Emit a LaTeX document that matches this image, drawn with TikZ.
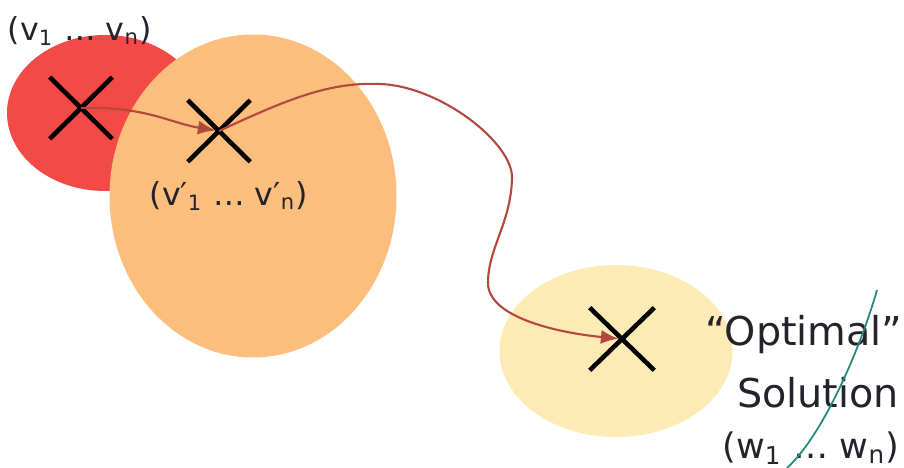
\documentclass[tikz,border=0pt]{standalone}
\usepackage{fontspec}
\setmainfont{DejaVu Sans}
\definecolor{startred}{RGB}{243, 74, 72}
\definecolor{localorange}{RGB}{251, 190, 124}
\definecolor{optyellow}{RGB}{253, 234, 180}
\definecolor{pathred}{RGB}{178, 72, 62}
\definecolor{boundteal}{RGB}{40, 135, 125}
\definecolor{labgray}{RGB}{35, 35, 45}
\usepackage{tikz}
\usetikzlibrary{positioning,shapes.geometric,shapes.misc,arrows.meta}

\begin{document}
\begin{tikzpicture}[
	region/.style={ellipse, inner sep=0pt},
	xmark/.style={cross out, draw=black, line width=1.3pt, inner sep=0pt,
		minimum width=0.58cm, minimum height=0.57cm},
	lab/.style={text=labgray, font=\fontsize{9}{11}\selectfont, inner sep=0pt},
	big/.style={text=labgray, font=\fontsize{11.3}{13}\selectfont, inner sep=0pt},
	walk/.style={-{Latex[length=5pt,width=4pt]}, line width=0.6pt, pathred}
	]
	\useasboundingbox (0,0) rectangle (9.04,4.68);
	
	% search regions
	\node[region, fill=startred, minimum width=1.96cm, minimum height=1.56cm] (start) at (1.05,3.55) {};
	\node[region, fill=localorange, minimum width=2.87cm, minimum height=3.23cm] (local) at (2.53,2.72) {};
	\node[region, fill=optyellow, minimum width=2.33cm, minimum height=1.72cm] (best) at (6.16,1.17) {};
	
	% points
	\node[xmark] (x1) at (0.81,3.60) {};
	\node[xmark] (x2) at (2.19,3.37) {};
	\node[xmark, minimum width=0.60cm, minimum height=0.58cm] (x3) at (6.22,1.29) {};
	
	\node[lab] (vlab)  at (0.80,4.37) {(v\textsubscript{1} \ldots\ v\textsubscript{n})};
	\node[lab] (vplab) at (2.29,2.72) {(v′\textsubscript{1} \ldots\ v′\textsubscript{n})};
	\node[big] (opt)   at (8.04,1.33) {``Optimal''};
	\node[big] (sol)   [below=0.22cm of opt.south, xshift=0.14cm, anchor=north] {Solution};
	\node[lab, font=\fontsize{10}{12}\selectfont] (wlab) at (8.11,0.20) {(w\textsubscript{1} \ldots\ w\textsubscript{n})};
	
	% moves
	\draw[walk, shorten >=1pt] (x1.center) .. controls (1.45,3.62) and (1.70,3.45) .. (x2.center);
	\draw[walk, shorten >=1pt] (x2.center) .. controls (2.9,3.70) and (3.3,3.86) .. (3.80,3.84)
		.. controls (4.40,3.82) and (5.13,3.25) .. (5.12,2.90)
		.. controls (5.11,2.45) and (4.88,2.20) .. (4.88,1.85)
		.. controls (4.88,1.50) and (5.60,1.35) .. (x3.center);
	
	% boundary line
	\coordinate (btop) at (8.77,1.78);
	\coordinate (bbot) at (7.87,0.00);
	\draw[boundteal, line width=0.5pt] (btop) .. controls (8.62,1.25) and (8.25,0.35) .. (bbot);
\end{tikzpicture}
\end{document}
